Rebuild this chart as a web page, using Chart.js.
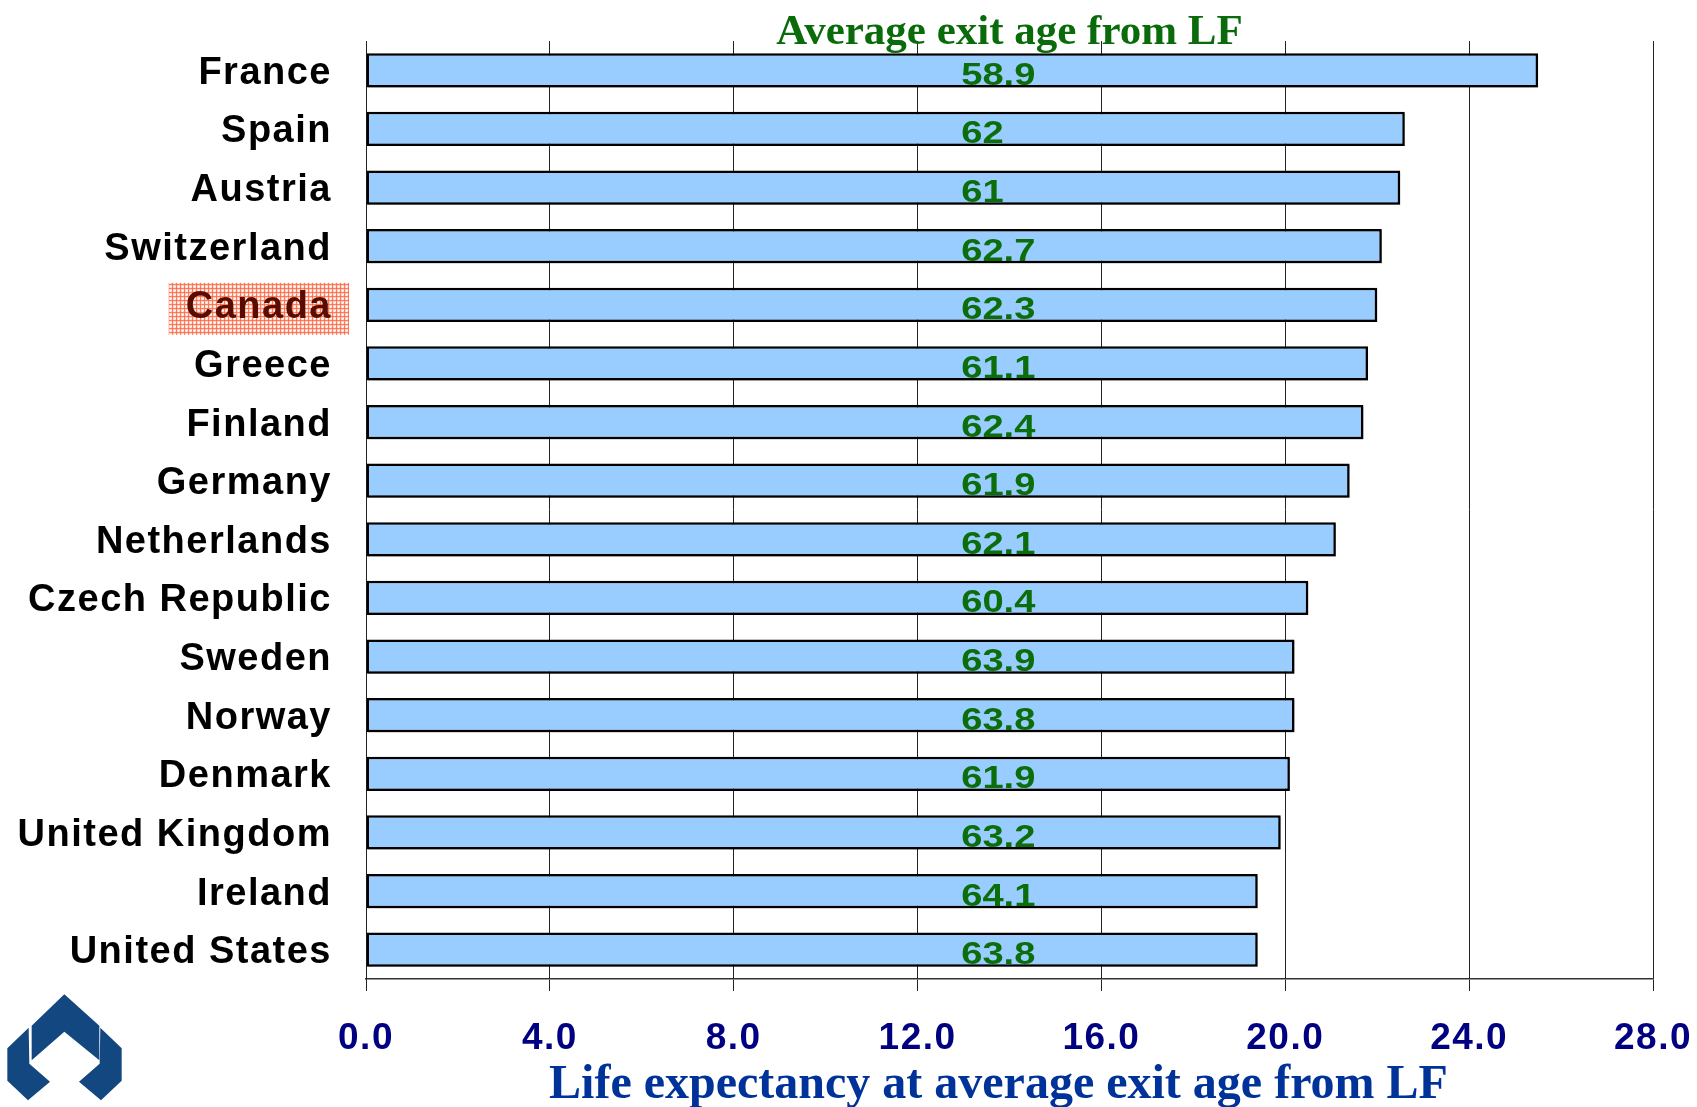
<!DOCTYPE html>
<html>
<head>
<meta charset="utf-8">
<script src="https://cdn.jsdelivr.net/npm/chart.js@4/dist/chart.umd.min.js"></script>
<style>
  html, body { margin: 0; padding: 0; background: #ffffff; }
  canvas { display: block; }
</style>
</head>
<body>
<canvas id="c" width="1697" height="1107"></canvas>
<script>
// ---- Data ----
const categories = ['France', 'Spain', 'Austria', 'Switzerland', 'Canada', 'Greece', 'Finland', 'Germany',
  'Netherlands', 'Czech Republic', 'Sweden', 'Norway', 'Denmark', 'United Kingdom', 'Ireland', 'United States'];
// Life expectancy at average exit age from the labour force (years) – bar lengths
const lifeExpectancy = [25.5, 22.6, 22.5, 22.1, 22.0, 21.8, 21.7, 21.4, 21.1, 20.5, 20.2, 20.2, 20.1, 19.9, 19.4, 19.4];
// Average exit age from the labour force – printed inside bars
const exitAge = [58.9, 62, 61, 62.7, 62.3, 61.1, 62.4, 61.9, 62.1, 60.4, 63.9, 63.8, 61.9, 63.2, 64.1, 63.8];
const highlightedCategory = 'Canada';
const chartTitle = 'Average exit age from LF';
const axisTitle = 'Life expectancy at average exit age from LF';

// ---- Styling ----
const LABEL_X_VALUE = 12.95;     // x-position (in axis units) where the exit-age labels start
const Y_LABEL_PAD = 34;

function drawLogo(ctx) {
  const ox = 0, oy = 985, s = 1 / 3;
  const P = (pts) => {
    ctx.beginPath();
    pts.forEach(([x, y], i) => i ? ctx.lineTo(ox + x * s, oy + y * s) : ctx.moveTo(ox + x * s, oy + y * s));
    ctx.closePath();
    ctx.fill();
  };
  ctx.save();
  ctx.fillStyle = '#13477f';
  P([[193, 28], [298, 122], [298, 226], [193, 140], [95, 226], [95, 122]]);
  P([[86, 128], [22, 190], [22, 287], [84, 346], [150, 290], [88, 236]]);
  P([[301, 128], [365, 190], [365, 287], [303, 346], [237, 290], [299, 236]]);
  ctx.restore();
}

function makePattern(ctx) {
  const pc = document.createElement('canvas');
  pc.width = 4; pc.height = 4;
  const p = pc.getContext('2d');
  p.fillStyle = '#ffd2c6';
  p.fillRect(0, 0, 4, 4);
  p.fillStyle = 'rgba(255,95,60,0.75)';
  p.fillRect(0, 0, 4, 1);
  p.fillRect(0, 0, 1, 4);
  p.fillStyle = 'rgba(255,255,255,0.7)';
  p.fillRect(2, 2, 2, 1);
  p.fillRect(2, 2, 1, 2);
  return ctx.createPattern(pc, 'repeat');
}

const decorPlugin = {
  id: 'decor',
  beforeDraw(chart) {
    const ctx = chart.ctx;
    ctx.save();
    ctx.fillStyle = '#ffffff';
    ctx.fillRect(0, 0, chart.width, chart.height);
    // highlight box behind the Canada label
    const y = chart.scales.y;
    const idx = categories.indexOf(highlightedCategory);
    const cy = y.getPixelForValue(idx);
    ctx.font = 'bold 38px "Liberation Sans"';
    ctx.letterSpacing = '1.5px';
    const w = ctx.measureText(highlightedCategory).width;
    const right = y.right - Y_LABEL_PAD;
    ctx.fillStyle = makePattern(ctx);
    ctx.fillRect(right - w - 17, cy - 22, w + 34, 52);
    ctx.restore();
    // letter spacing for axis tick labels (drawn by Chart.js next)
    ctx.letterSpacing = '1.5px';
  },
  beforeDatasetsDraw(chart) {
    const ctx = chart.ctx;
    ctx.letterSpacing = '0px';
    ctx.save();
    ctx.shadowColor = 'rgba(0,0,0,0.35)';
    ctx.shadowOffsetX = 1.5;
    ctx.shadowOffsetY = 1.5;
    ctx.shadowBlur = 1;
  },
  afterDatasetsDraw(chart) {
    const ctx = chart.ctx;
    ctx.restore();
    const meta = chart.getDatasetMeta(0);
    const x = chart.scales.x.getPixelForValue(LABEL_X_VALUE);
    ctx.save();
    ctx.font = 'bold 32px "Liberation Sans"';
    ctx.fillStyle = '#0b6e0b';
    ctx.textAlign = 'left';
    ctx.textBaseline = 'alphabetic';
    meta.data.forEach((bar, i) => {
      ctx.save();
      ctx.translate(x, bar.y + 14.5);
      ctx.scale(1.19, 1);
      ctx.fillText(String(exitAge[i]), 0, 0);
      ctx.restore();
    });
    ctx.restore();
  },
  afterDraw(chart) {
    const ctx = chart.ctx;
    const a = chart.chartArea;
    ctx.save();
    ctx.letterSpacing = '0px';
    ctx.textAlign = 'center';
    ctx.textBaseline = 'alphabetic';
    ctx.font = 'bold 43px "Liberation Serif"';
    ctx.fillStyle = '#0a6b0a';
    ctx.fillText(chartTitle, (a.left + a.right) / 2, a.top + 3);
    ctx.font = 'bold 48px "Liberation Serif"';
    ctx.fillStyle = '#003399';
    ctx.fillText(axisTitle, (a.left + a.right) / 2 - 11, chart.height - 9);
    drawLogo(ctx);
    ctx.restore();
  }
};

new Chart(document.getElementById('c'), {
  type: 'bar',
  data: {
    labels: categories,
    datasets: [{
      data: lifeExpectancy,
      backgroundColor: '#99ccff',
      borderColor: '#000000',
      borderWidth: 2.5,
      borderSkipped: false,
      categoryPercentage: 1.0,
      barPercentage: 0.585
    }]
  },
  options: {
    indexAxis: 'y',
    responsive: false,
    animation: false,
    devicePixelRatio: 1,
    layout: { padding: { top: 41, right: 44, left: 0, bottom: 0 } },
    plugins: { legend: { display: false }, tooltip: { enabled: false }, title: { display: false } },
    scales: {
      x: {
        min: 0, max: 28,
        afterFit(s) { s.height = 128; s.paddingLeft = 0; s.paddingRight = 0; },
        ticks: {
          stepSize: 4,
          callback: (v) => Number(v).toFixed(1),
          font: { family: '"Liberation Sans"', weight: 'bold', size: 37 },
          color: '#000080',
          padding: 26,
          maxRotation: 0
        },
        grid: { color: '#222222', lineWidth: 1, drawTicks: true, tickLength: 12, tickColor: '#222222' },
        border: { display: true, color: '#333333', width: 1.5 }
      },
      y: {
        afterFit(s) { s.width = 366; s.paddingTop = 0; s.paddingBottom = 0; },
        ticks: {
          font: { family: '"Liberation Sans"', weight: 'bold', size: 38 },
          color: (c) => categories[c.index] === highlightedCategory ? '#5a0c00' : '#000000',
          padding: Y_LABEL_PAD,
          labelOffset: 3,
          autoSkip: false
        },
        grid: { display: false, drawTicks: false },
        border: { display: true, color: '#222222', width: 1 }
      }
    }
  },
  plugins: [decorPlugin]
});
</script>
</body>
</html>
